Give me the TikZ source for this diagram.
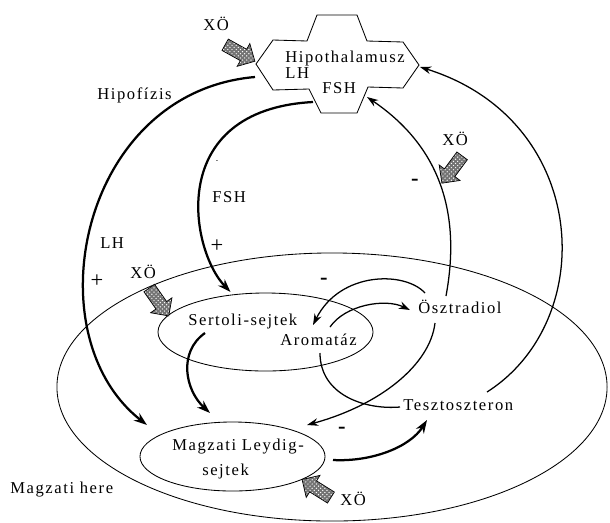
\documentclass[tikz,border=0pt]{standalone}
\usepackage{fontspec}
\setmainfont{Liberation Serif}[LetterSpace=9.5]
\usepackage{tikz}
\usetikzlibrary{arrows.meta, calc, shapes.geometric, patterns}

\begin{document}
\begin{tikzpicture}[x=0.025cm, y=-0.025cm,
    lbl/.style={font=\fontsize{11.8}{13}\selectfont, inner sep=0pt, anchor=base west},
    sign/.style={font=\fontsize{16}{16}\selectfont, inner sep=0pt},
    cell/.style={draw, ellipse, line width=0.6pt, inner sep=0pt},
    hormone/.style={-{Stealth[length=3.3mm,width=2.3mm]}, line width=1.6pt},
    signal/.style={-{Stealth[length=2.8mm,width=1.9mm]}, line width=0.9pt},
    xofill/.style={draw, line width=0.5pt, preaction={fill=black!55},
        pattern=crosshatch dots, pattern color=white},
    xoblock/.pic={\draw[xofill] (-17,-6.5) -- (4,-6.5) -- (4,-13) -- (17,0) -- (4,13)
        -- (4,6.5) -- (-17,6.5) -- cycle;}]
    \useasboundingbox (0,0) rectangle (610,522);

    % Magzati here
    \node[cell, minimum width=13.75cm, minimum height=6.7cm] (here) at (332,387) {};
    \node[lbl] (heretxt) at (10,493) {Magzati here};

    % Sertoli, Leydig
    \node[cell, minimum width=5.375cm, minimum height=1.95cm] (sertoli) at (265.5,332) {};
    \node[lbl] (sertolitxt) at (188,325) {Sertoli-sejtek};
    \node[lbl] (aromatxt) at (280,345) {Aromatáz};
    \node[cell, minimum width=4.625cm, minimum height=1.725cm] (leydig) at (232.5,456.5) {};
    \node[lbl] (leydigtxt) at (172,450) {Magzati Leydig-};
    \node[lbl] (leydigtxtb) at (202,475) {sejtek};

    % Hormones
    \node[lbl] (osztr) at (418,313) {Ösztradiol};
    \node[lbl] (teszto) at (403,410) {Tesztoszteron};

    % Hipothalamusz
    \draw[line width=0.6pt] (317,15) -- (357,15) -- (367,41) -- (403,42) -- (419,65) -- (403,88)
        -- (368,87) -- (357,113) -- (321,113) -- (309,89) -- (273,90) -- (256,64) -- (273,40)
        -- (307,41) -- cycle;
    \node[lbl] (hyptxt) at (285,62) {Hipothalamusz};
    \node[lbl] (hyplh) at (285,78) {LH};
    \node[lbl] (hypfsh) at (322,93) {FSH};
    \coordinate (hlh) at (255,77);
    \coordinate (hfsh) at (313,102);
    \coordinate (hin) at (367,97);
    \coordinate (hright) at (420,67);

    % LH, FSH
    \draw[hormone] (hlh) .. controls (80,92) and (32,335) .. ($(leydig.center)+(-85.5,-31.5)$);
    \draw[hormone] (hfsh) .. controls (165,110) and (190,250) .. ($(sertoli.center)+(-35,-40)$);
    \node[lbl] (hipofizis) at (97,99) {Hipofízis};
    \node[lbl] (lhlbl) at (100,248) {LH};
    \node[lbl] (fshlbl) at (212,202) {FSH};
    \node[font=\tiny, inner sep=0pt] (fshdot) at (217,162) {-};
    \node[sign] (lhplus) at (97,281) {+};
    \node[sign] (fshplus) at (217,246) {+};

    % Sertoli -> Leydig -> Tesztoszteron
    \draw[hormone] ($(sertolitxt.base west)+(17,8)$) .. controls (178,352) and (185,390) .. ($(leydig.center)+(-22.5,-43.5)$);
    \draw[hormone] ($(leydig.center)+(100.5,3.5)$) .. controls (372,462) and (410,447) .. ($(teszto.base west)+(24,10)$);

    % Aromatáz
    \draw[line width=0.9pt] ($(teszto.base west)+(-3,-3)$) .. controls (365,410) and (320,395) .. ($(aromatxt.base west)+(40,8)$);
    \draw[signal] ($(aromatxt.base west)+(50,-18)$) .. controls (345,305) and (385,298) .. ($(osztr.base west)+(-8,-3)$);

    % Feedback
    \draw[signal] ($(osztr.base west)+(7,-20)$) .. controls (405,271) and (340,271) .. ($(aromatxt.base west)+(33,-20)$);
    \draw[signal] ($(osztr.base west)+(17,10)$) .. controls (430,365) and (380,405) .. ($(leydig.center)+(74.5,-31.5)$);
    \draw[signal] ($(osztr.base west)+(28,-17)$) .. controls (460,220) and (445,150) .. (hin);
    \draw[signal] ($(teszto.base west)+(84,-18)$) .. controls (600,320) and (590,120) .. (hright);
    \node[sign] (minusa) at (416,182) {\textbf{-}};
    \node[sign] (minusb) at (325,281) {\textbf{-}};
    \node[sign] (minusc) at (343,430) {\textbf{-}};

    % XÖ
    \node[lbl] (xotop) at (203,30) {XÖ};
    \pic[rotate=-29] (xotoparr) at (240,53) {xoblock};
    \node[lbl] (xoright) at (442,145) {XÖ};
    \pic[rotate=-126.5] (xorightarr) at (452,169.5) {xoblock};
    \node[lbl] (xoleft) at (130,278) {XÖ};
    \pic[rotate=-55] (xoleftarr) at (159,302) {xoblock};
    \node[lbl] (xobottom) at (340,505) {XÖ};
    \pic[rotate=148] (xobottomarr) at (316.5,488.5) {xoblock};
\end{tikzpicture}
\end{document}
